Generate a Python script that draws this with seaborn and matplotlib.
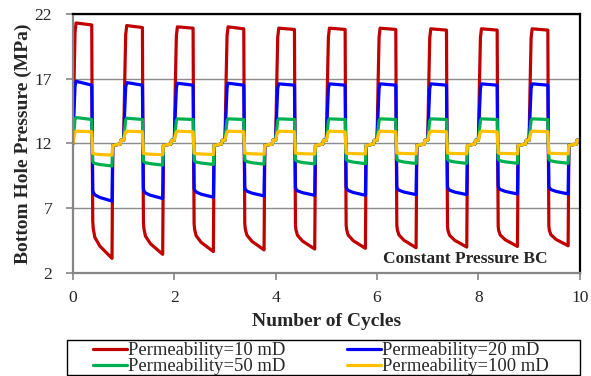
import numpy as np
import pandas as pd
import seaborn as sns
import matplotlib
matplotlib.use('Agg')
import matplotlib.pyplot as plt
from matplotlib.patches import Rectangle

# per-cycle levels (MPa), cycles 0..9
red_hi_start = [21.3, 21.1, 21.0, 21.0, 20.9, 20.9, 20.9, 20.85, 20.85, 20.85]
red_hi_end = [21.15, 20.95, 20.9, 20.85, 20.8, 20.8, 20.8, 20.75, 20.75, 20.75]
red_lo_start = [6.0, 5.9, 5.8, 5.8, 5.7, 5.7, 5.7, 5.6, 5.6, 5.6]
red_lo_end = [3.13, 3.44, 3.65, 3.78, 3.85, 3.9, 3.95, 4.0, 4.05, 4.1]

blue_hi_start = [16.8, 16.7, 16.65, 16.65, 16.6, 16.6, 16.6, 16.6, 16.6, 16.6]
blue_hi_end = [16.5, 16.5, 16.5, 16.5, 16.5, 16.5, 16.5, 16.5, 16.5, 16.5]
blue_lo_start = [8.4, 8.5, 8.55, 8.6, 8.6, 8.65, 8.65, 8.65, 8.7, 8.7]
blue_lo_end = [7.55, 7.75, 7.85, 7.95, 8.0, 8.0, 8.05, 8.05, 8.1, 8.1]

green_hi_start = [14.0, 13.95, 13.9, 13.9, 13.9, 13.9, 13.9, 13.9, 13.9, 13.9]
green_hi_end = [13.85, 13.85, 13.85, 13.85, 13.85, 13.85, 13.85, 13.85, 13.85, 13.85]
green_lo_start = [10.6, 10.65, 10.7, 10.75, 10.75, 10.8, 10.8, 10.8, 10.8, 10.8]
green_lo_end = [10.26, 10.33, 10.38, 10.4, 10.42, 10.44, 10.45, 10.46, 10.47, 10.47]

yellow_hi_start = [12.95, 12.95, 12.95, 12.95, 12.95, 12.95, 12.95, 12.95, 12.95, 12.95]
yellow_hi_end = [12.9, 12.9, 12.9, 12.9, 12.9, 12.9, 12.9, 12.9, 12.9, 12.9]
yellow_lo_start = [11.24, 11.25, 11.26, 11.27, 11.27, 11.27, 11.27, 11.27, 11.27, 11.27]
yellow_lo_end = [11.1, 11.13, 11.15, 11.17, 11.18, 11.19, 11.2, 11.2, 11.2, 11.2]

# shape of one cycle: time within cycle and fraction of the low-phase drop
low_t = [0.39, 0.40, 0.43, 0.53, 0.66, 0.77]
low_f = [1.0, 0.8, 0.57, 0.33, 0.15, 0.0]
rest_a, rest_b = 11.85, 12.25
start_p = 12.0

labels = ["Permeability=10 mD", "Permeability=20 mD",
          "Permeability=50 mD", "Permeability=100 mD"]
colors = ["#C00000", "#0000FF", "#00B050", "#FFC000"]
levels = [
    (red_hi_start, red_hi_end, red_lo_start, red_lo_end),
    (blue_hi_start, blue_hi_end, blue_lo_start, blue_lo_end),
    (green_hi_start, green_hi_end, green_lo_start, green_lo_end),
    (yellow_hi_start, yellow_hi_end, yellow_lo_start, yellow_lo_end),
]

rows = []
for lab, (hs, he, ls, le) in zip(labels, levels):
    prev = start_p
    for c in range(10):
        pts = [(0.0, prev),
               (0.02, prev + 0.5 * (hs[c] - prev)),
               (0.04, prev + 0.92 * (hs[c] - prev)),
               (0.06, hs[c]),
               (0.37, he[c]),
               (0.38, 12.0)]
        for t, f in zip(low_t, low_f):
            pts.append((t, le[c] + f * (ls[c] - le[c])))
        pts += [(0.785, rest_a), (0.93, 11.95), (0.945, rest_b), (0.999, rest_b)]
        prev = rest_b
        for t, v in pts:
            rows.append({"cycle": c + t, "bhp": v, "series": lab})
df = pd.DataFrame(rows)

sns.set_style("white")
plt.rcParams['font.family'] = ['Liberation Serif', 'DejaVu Serif']

fig = plt.figure(figsize=(5.91, 3.76), dpi=100)
ax = fig.add_axes([0.1235, 0.274, 0.8575, 0.689])

ax.grid(axis='y', color='#8c8c8c', lw=1.0)
ax.set_axisbelow(True)
sns.lineplot(data=df, x="cycle", y="bhp", hue="series", palette=colors,
             hue_order=labels, sort=False, estimator=None, lw=2.3, ax=ax,
             legend=False)

ax.set_xlim(0, 10)
ax.set_ylim(2, 22)
ax.set_xticks([0, 2, 4, 6, 8, 10])
ax.set_yticks([2, 7, 12, 17, 22])
ax.tick_params(axis='both', labelsize=12.6, direction='out', length=5,
               width=1.2, color='#868686')
ax.tick_params(axis='x', pad=7)
ax.tick_params(axis='y', pad=10)
ax.tick_params(axis='both', left=True, bottom=True)
for s in ['left', 'bottom']:
    ax.spines[s].set_color('#868686')
    ax.spines[s].set_linewidth(1.6)
for s in ['top', 'right']:
    ax.spines[s].set_color('black')
    ax.spines[s].set_linewidth(1.6)

ax.set_xlabel("Number of Cycles", fontsize=14, fontweight='bold', labelpad=5)
ax.set_ylabel("Bottom Hole Pressure (MPa)", fontsize=14, fontweight='bold',
              labelpad=2)
ax.text(0.775, 0.055, "Constant Pressure BC", transform=ax.transAxes,
        ha='center', va='center', fontsize=12.5, fontweight='bold')

# legend filled row by row: 10 | 20 / 50 | 100
order = [0, 2, 1, 3]
handles = [plt.Line2D([], [], color=colors[i], lw=2.3) for i in order]
fig.legend(handles, [labels[i] for i in order], loc='upper left', ncol=2,
           bbox_to_anchor=(93 / 591, 1 - 342 / 376), fontsize=13.4,
           frameon=False, borderpad=0.0, labelspacing=-0.05,
           handlelength=1.83, handletextpad=0.05, columnspacing=3.3,
           borderaxespad=0.0)
fig.patches.append(Rectangle((67 / 591, 1 / 376), (580 - 67) / 591,
                             (376 - 340 - 1) / 376, transform=fig.transFigure,
                             fill=False, edgecolor='black', lw=1.0))

fig.savefig("out.png", dpi=100)
